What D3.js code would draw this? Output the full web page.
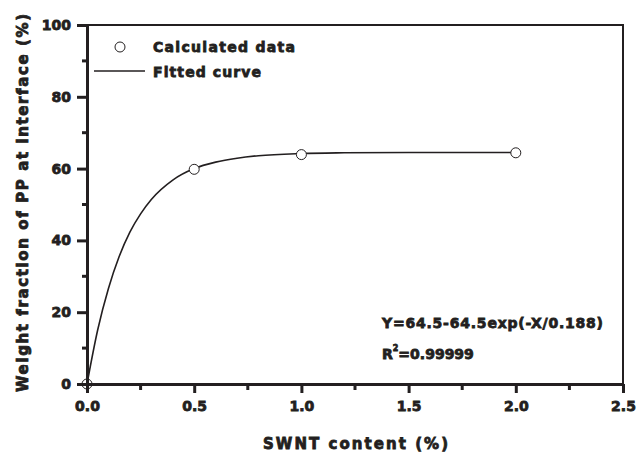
<!DOCTYPE html>
<html><head><meta charset="utf-8">
<script src="https://cdn.jsdelivr.net/npm/d3@7"></script>
<style>
body{margin:0;background:#fff;}
text{font-family:"DejaVu Sans",sans-serif;font-weight:bold;fill:#231f20;}
</style></head>
<body><svg id="c" width="640" height="455"></svg>
<script>
// Data
const dataX = [0, 0.5, 1.0, 2.0];
const dataY = [0, 59.8, 63.9, 64.4];
const curveX = [0, 0.05, 0.1, 0.15, 0.2, 0.25, 0.3, 0.4, 0.5, 0.6, 0.7, 0.8, 1.0, 1.2, 1.5, 2.0];
const curveY = [0, 15.1, 26.6, 35.5, 42.3, 47.4, 51.4, 56.8, 60.0, 61.8, 62.9, 63.6, 64.2, 64.4, 64.5, 64.5];
const xTicks = [0, 0.5, 1.0, 1.5, 2.0, 2.5];
const xMinor = [0.25, 0.75, 1.25, 1.75, 2.25];
const yTicks = [0, 20, 40, 60, 80, 100];
const yMinor = [10, 30, 50, 70, 90];
const legendLabels = ["Calculated data", "Fitted curve"];
const equationText = "Y=64.5-64.5exp(-X/0.188)";
const xTitle = "SWNT content (%)";
const yTitle = "Weight fraction of PP at interface (%)";

const col = "#231f20";
const FF = "DejaVu Sans, sans-serif";
const SW = 0.8;
const svg = d3.select("#c");
const L = 87, R = 623, T = 25, B = 384;
const x = d3.scaleLinear().domain([0, 2.5]).range([L, R]);
const y = d3.scaleLinear().domain([0, 100]).range([B, T]);

// curve
svg.append("path").datum(curveX.map((d,i)=>[d,curveY[i]]))
  .attr("d", d3.line().x(d=>x(d[0])).y(d=>y(d[1])).curve(d3.curveMonotoneX))
  .attr("fill","none").attr("stroke",col).attr("stroke-width",1.6);

// points
svg.selectAll("circle.pt").data(dataX.map((d,i)=>[d,dataY[i]])).join("circle")
  .attr("class","pt").attr("cx",d=>x(d[0])).attr("cy",d=>y(d[1])).attr("r",5)
  .attr("fill","#fff").attr("stroke",col).attr("stroke-width",1);

// frame top/right
svg.append("path").attr("d", `M${L},${T}H${R}V${B}`).attr("fill","none").attr("stroke",col).attr("stroke-width",2);

// x axis
const gx = svg.append("g").attr("transform",`translate(0,${B})`);
gx.call(d3.axisBottom(x).tickValues(xTicks).tickFormat(d3.format(".1f")).tickSize(9).tickPadding(8).tickSizeOuter(0));
gx.append("g").call(g=>g.selectAll("line").data(xMinor).join("line")
  .attr("x1",d=>x(d)).attr("x2",d=>x(d)).attr("y1",0).attr("y2",6).attr("stroke",col).attr("stroke-width",3));
// y axis
const gy = svg.append("g").attr("transform",`translate(${L},0)`);
gy.call(d3.axisLeft(y).tickValues(yTicks).tickFormat(d3.format("d")).tickSize(10).tickPadding(6).tickSizeOuter(0));
gy.append("g").call(g=>g.selectAll("line").data(yMinor).join("line")
  .attr("x1",0).attr("x2",-5).attr("y1",d=>y(d)).attr("y2",d=>y(d)).attr("stroke",col).attr("stroke-width",3));

[gx, gy].forEach(g=>{
  g.select(".domain").attr("stroke",col).attr("stroke-width",3);
  g.selectAll(".tick line").attr("stroke",col).attr("stroke-width",3);
  g.selectAll(".tick text").attr("font-size",14).attr("font-family",FF)
   .attr("font-weight","bold").attr("fill",col).attr("stroke",col).attr("stroke-width",SW);
});

// legend
svg.append("circle").attr("cx",120).attr("cy",47).attr("r",5).attr("fill","#fff").attr("stroke",col).attr("stroke-width",1);
svg.append("line").attr("x1",94).attr("x2",145).attr("y1",71).attr("y2",71).attr("stroke",col).attr("stroke-width",1.5);
const legLen = [142, 108];
svg.selectAll("text.leg").data(legendLabels).join("text").attr("class","leg")
  .attr("x",153).attr("y",(d,i)=>52+i*25).attr("font-size",14).attr("stroke",col).attr("stroke-width",SW)
  .attr("textLength",(d,i)=>legLen[i]).attr("lengthAdjust","spacing").text(d=>d);

// equation
svg.append("text").attr("x",382).attr("y",328).attr("font-size",14).attr("stroke",col).attr("stroke-width",SW)
  .attr("textLength",221).attr("lengthAdjust","spacing").text(equationText);
const r2 = svg.append("text").attr("x",382).attr("y",359).attr("font-size",14).attr("stroke",col).attr("stroke-width",SW);
r2.append("tspan").text("R");
r2.append("tspan").attr("dy",-8).attr("font-size",8).text("2");
r2.append("tspan").attr("dy",8).text("=0.99999");

// axis titles
svg.append("text").attr("x",263).attr("y",449).attr("font-size",15)
  .attr("textLength",185).attr("lengthAdjust","spacing").attr("stroke",col).attr("stroke-width",SW).text(xTitle);
svg.append("text").attr("transform","translate(28,392) rotate(-90)").attr("font-size",15)
  .attr("textLength",378).attr("lengthAdjust","spacing").attr("stroke",col).attr("stroke-width",SW).text(yTitle);
</script></body></html>
